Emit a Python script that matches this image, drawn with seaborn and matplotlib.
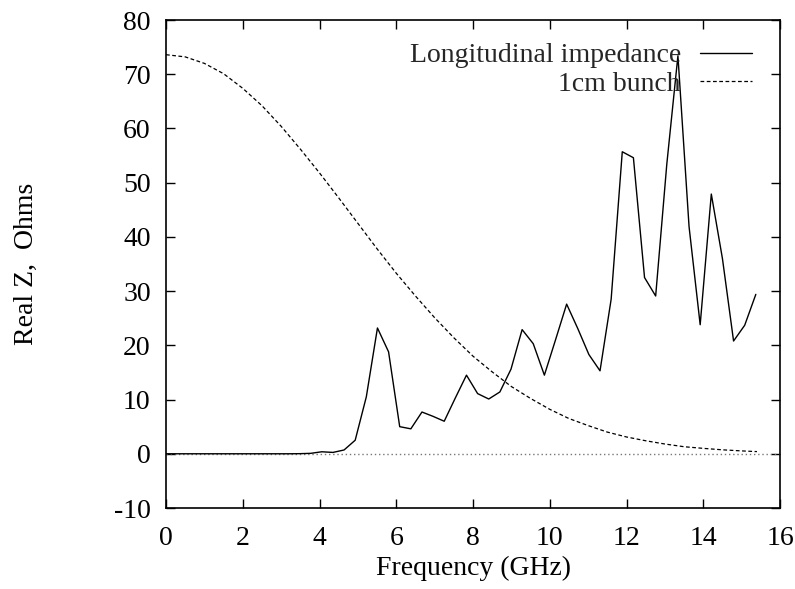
import numpy as np
import pandas as pd
import matplotlib
matplotlib.use("Agg")
import matplotlib.pyplot as plt
import seaborn as sns

# Longitudinal impedance (real part)
imp_freq = [0.00, 0.29, 0.58, 0.87, 1.16, 1.45, 1.74, 2.03, 2.32, 2.61,
            2.90, 3.19, 3.48, 3.77, 4.06, 4.35, 4.64, 4.93, 5.22, 5.51,
            5.80, 6.09, 6.38, 6.67, 6.96, 7.25, 7.54, 7.83, 8.12, 8.41,
            8.70, 8.99, 9.28, 9.57, 9.86, 10.15, 10.44, 10.73, 11.02, 11.31,
            11.60, 11.89, 12.18, 12.47, 12.76, 13.05, 13.34, 13.63, 13.92, 14.21,
            14.50, 14.79, 15.08, 15.37]
imp_real = [0.0, 0.0, 0.0, 0.0, 0.0, 0.0, 0.0, 0.0, 0.0, 0.0,
            0.0, 0.0, 0.02, 0.08, 0.37, 0.25, 0.7, 2.5, 10.5, 23.2,
            18.8, 5.0, 4.6, 7.7, 6.9, 6.0, 10.3, 14.5, 11.1, 10.1,
            11.4, 15.6, 22.9, 20.3, 14.5, 21.0, 27.6, 23.1, 18.3, 15.3,
            28.5, 55.7, 54.6, 32.5, 29.1, 53.4, 73.4, 41.9, 23.8, 47.9,
            36.0, 20.8, 23.7, 29.4]

# 1cm bunch spectrum
bunch_freq = [0.0, 0.5, 1.0, 1.5, 2.0, 2.5, 3.0, 3.5, 4.0, 4.5,
              5.0, 5.5, 6.0, 6.5, 7.0, 7.5, 8.0, 8.5, 9.0, 9.5,
              10.0, 10.5, 11.0, 11.5, 12.0, 12.5, 13.0, 13.5, 14.0, 14.5,
              15.0, 15.4]
bunch_amp = [73.6, 73.2, 72.0, 70.1, 67.4, 64.2, 60.4, 56.2, 51.8, 47.2,
             42.5, 37.8, 33.3, 29.1, 25.1, 21.4, 18.0, 15.1, 12.4, 10.2,
             8.2, 6.5, 5.2, 4.0, 3.1, 2.4, 1.8, 1.3, 1.0, 0.73,
             0.53, 0.40]

zero_x = [0, 16]
zero_y = [0, 0]

x_ticks = [0, 2, 4, 6, 8, 10, 12, 14, 16]
y_ticks = [-10, 0, 10, 20, 30, 40, 50, 60, 70, 80]

sns.set_theme(style="ticks")
plt.rcParams["font.family"] = ["Liberation Serif", "DejaVu Serif"]
plt.rcParams["mathtext.fontset"] = "stix"

fig = plt.figure(figsize=(7.95, 5.89), dpi=100)
ax = fig.add_axes([166/795, 1-508/589, 614/795, 488/589])

imp_df = pd.DataFrame({"f": imp_freq, "z": imp_real})
bunch_df = pd.DataFrame({"f": bunch_freq, "z": bunch_amp})
zero_df = pd.DataFrame({"f": zero_x, "z": zero_y})

sns.lineplot(data=zero_df, x="f", y="z", ax=ax, color="#777777", lw=1.0,
             linestyle=(0, (1, 2)), estimator=None, sort=False)
sns.lineplot(data=imp_df, x="f", y="z", ax=ax, color="black", lw=1.0,
             estimator=None, sort=False, label="Longitudinal impedance")
sns.lineplot(data=bunch_df, x="f", y="z", ax=ax, color="black", lw=0.9,
             linestyle=(0, (3, 2)), estimator=None, sort=False, label="1cm bunch")

ax.set_xlim(0, 16)
ax.set_ylim(-10, 80)
ax.set_xticks(x_ticks)
ax.set_yticks(y_ticks)
ax.set_xticklabels([str(v) for v in x_ticks])
ax.set_yticklabels([str(v) for v in y_ticks])
ax.tick_params(axis="both", which="both", direction="in", length=6.5, width=1.0,
               top=True, right=True, labelsize=20, color="black", labelcolor="black")
ax.tick_params(axis="y", pad=11)
ax.tick_params(axis="x", pad=13)
for s in ax.spines.values():
    s.set_visible(True)
    s.set_linewidth(1.2)
    s.set_color("black")

ax.set_xlabel("Frequency (GHz)", fontsize=20, labelpad=3.5, color="black")
ax.set_ylabel("Real Z,  Ohms", fontsize=20, color="black")
ax.yaxis.set_label_coords(-0.207, 0.5)

handles, labels = ax.get_legend_handles_labels()
leg = ax.legend(handles, labels, loc="upper right", bbox_to_anchor=(0.954, 0.953),
                frameon=False, markerfirst=False, fontsize=20, handlelength=1.85,
                handletextpad=0.7, labelspacing=0.1, borderpad=0, borderaxespad=0)

fig.savefig("out.png", dpi=100)
